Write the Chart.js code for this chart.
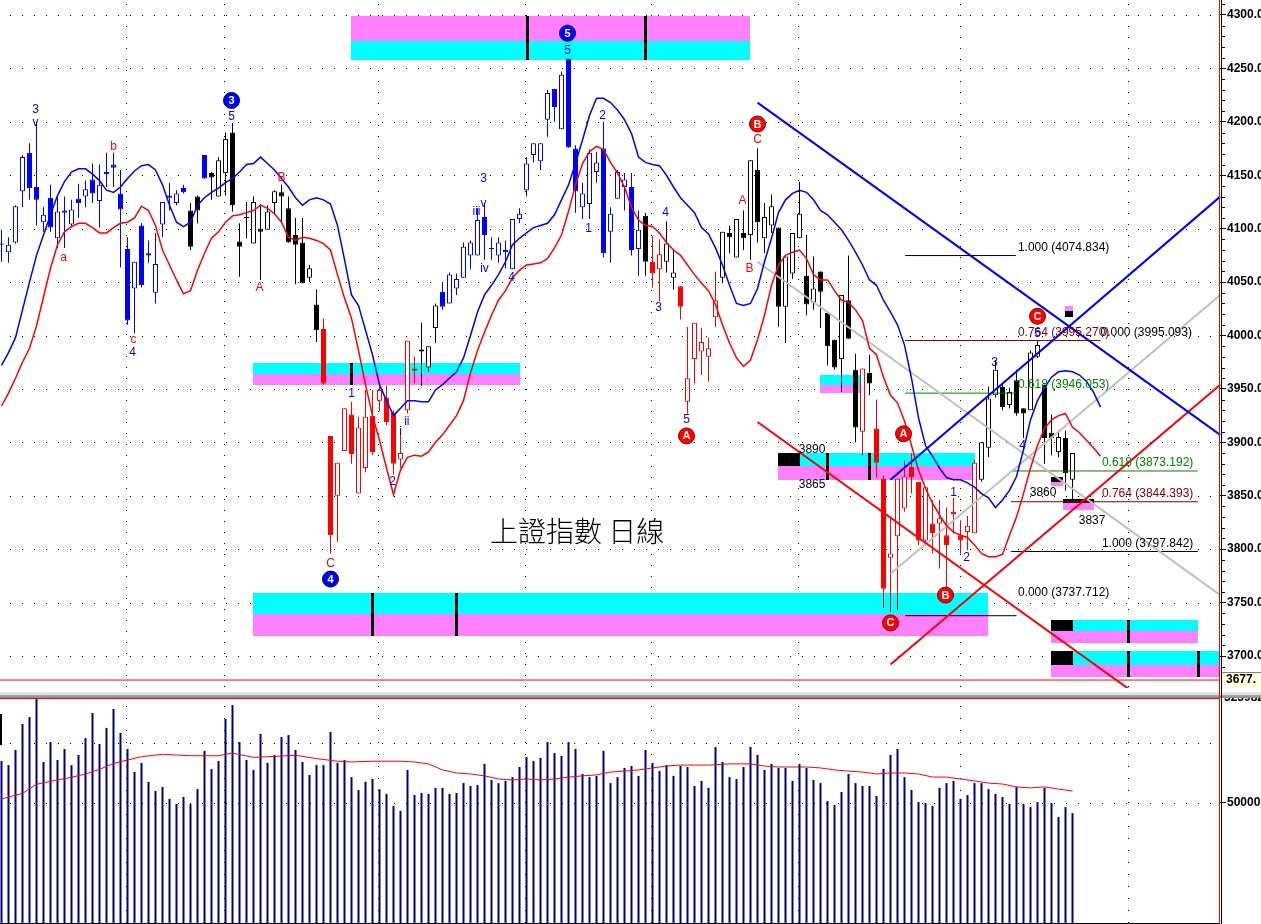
<!DOCTYPE html>
<html><head><meta charset="utf-8">
<script src="https://cdn.jsdelivr.net/npm/chart.js"></script>
<style>
html,body{margin:0;padding:0;background:#fff;overflow:hidden;width:1261px;height:924px}
#pw{position:absolute;left:0;top:0;width:1261px;height:688px}
#vw{position:absolute;left:0;top:698px;width:1261px;height:226px}
#sep{position:absolute;left:0;top:688px;width:1261px;height:10px;background:linear-gradient(to bottom,#fff 0,#fff 4px,#ececec 4px,#dcdcdc 7px,#a8a8a8 7px,#8c8c8c 10px)}
#vr{position:absolute;left:1219px;top:0;width:1px;height:924px;background:#f00}
#vb{position:absolute;left:1221px;top:0;width:1px;height:924px;background:#000}
</style></head>
<body>
<div id="pw"><canvas id="pc" width="1261" height="688"></canvas></div>
<div id="sep"></div>
<div id="vw"><canvas id="vc" width="1261" height="226"></canvas></div>
<div id="vr"></div><div id="vb"></div>
<script>
// ---------------- DATA ----------------
const openP = [4086,4078,4087,4135,4171,4139,4106,4129,4091,4117,
 4104,4128,4130,4146,4126,4153,4160,4133,4081,4044,
 4103,4077,4040,4104,4131,4124,4138,4117,4130,4169,
 4152,4130,4152,4190,4088,4111,4086,4100,4099,4124,
 4134,4119,4094,4087,4054,4029,4006,3906,3850,3892,
 3926,3852,3876,3925,3939,3942,3928,3884,3930,3969,
 3987,3970,4007,4041,4030,4044,4054,4075,4075,4111,
 4082,4075,4080,4062,4109,4136,4169,4163,4202,4231,
 4193,4259,4175,4120,4123,4153,4175,4097,4128,4139,
 4139,4081,4112,4069,4062,4069,4054,4046,3938,3978,
 3985,3980,4017,4054,4096,4073,4096,4094,4155,4091,
 4103,4101,4027,4058,4091,4056,4031,4060,4021,3996,
 3978,4033,3968,3910,3965,3913,3866,3792,3812,3838,
 3877,3863,3808,3824,3824,3813,3835,3813,3816,3815,
 3865,3895,3944,3952,3935,3958,3932,3930,3980,3954,
 3909,3891,3904,3865];
const highP = [4099,4092,4122,4169,4180,4200,4120,4141,4130,4130,
 4127,4142,4145,4161,4160,4171,4171,4155,4092,4069,
 4105,4089,4096,4125,4143,4136,4141,4124,4131,4169,
 4153,4167,4190,4199,4105,4125,4130,4123,4122,4136,
 4141,4130,4110,4110,4066,4043,4016,3906,3881,3932,
 3938,3924,3949,3949,3953,3953,3930,3909,3995,3980,
 4012,3990,4030,4050,4059,4058,4087,4089,4119,4124,
 4092,4092,4089,4109,4119,4167,4180,4180,4230,4231,
 4247,4259,4178,4143,4174,4172,4200,4120,4155,4152,
 4152,4117,4115,4093,4090,4107,4081,4046,4008,4012,
 4007,3998,4060,4097,4103,4109,4117,4164,4175,4124,
 4132,4101,4074,4096,4144,4094,4074,4060,4021,3996,
 4038,4075,3983,3969,3982,3940,3869,3830,3866,3883,
 3890,3863,3858,3846,3846,3839,3848,3827,3831,3883,
 3900,3952,3977,3955,3951,3968,3932,3986,3996,3954,
 3926,3911,3911,3890];
const lowP = [4069,4068,4086,4120,4127,4103,4097,4097,4082,4082,
 4101,4110,4120,4124,4101,4139,4139,4064,4010,4002,
 4045,4068,4030,4092,4117,4122,4133,4080,4105,4147,
 4127,4130,4131,4116,4055,4091,4086,4052,4099,4113,
 4105,4087,4048,4049,4050,3994,3954,3796,3807,3892,
 3880,3852,3872,3888,3929,3916,3870,3876,3927,3955,
 3953,3966,3993,4024,4030,4038,4054,4062,4075,4071,
 4071,4068,4063,4062,4105,4130,4162,4155,4186,4200,
 4193,4176,4115,4109,4109,4143,4073,4068,4128,4117,
 4075,4056,4056,4045,4032,4059,4043,4015,3927,3955,
 3963,3957,4008,4049,4077,4073,4080,4071,4087,4077,
 4096,4008,3993,4053,4091,4019,4024,4007,3972,3968,
 3947,3997,3900,3888,3944,3867,3745,3741,3743,3835,
 3852,3804,3806,3796,3782,3763,3815,3796,3799,3815,
 3863,3886,3942,3930,3932,3925,3904,3930,3979,3880,
 3888,3886,3855,3846];
const closeP = [4085,4085,4121,4167,4138,4127,4113,4101,4116,4115,
 4118,4124,4137,4133,4141,4151,4157,4118,4014,4069,
 4047,4075,4067,4125,4129,4133,4134,4083,4117,4147,
 4148,4164,4184,4122,4083,4110,4125,4097,4116,4135,
 4130,4087,4085,4049,4063,4005,3955,3813,3881,3932,
 3889,3914,3924,3891,3949,3919,3880,3890,3995,3967,
 3985,3990,4028,4027,4057,4053,4083,4087,4108,4094,
 4081,4087,4078,4109,4114,4161,4180,4180,4227,4214,
 4244,4176,4135,4133,4171,4162,4077,4114,4153,4146,
 4080,4099,4069,4058,4076,4086,4059,4027,3960,4012,
 3994,3988,4033,4097,4092,4109,4091,4164,4106,4111,
 4121,4027,4074,4096,4114,4029,4044,4041,3990,3970,
 4038,3997,3914,3969,3955,3881,3763,3796,3866,3868,
 3867,3808,3858,3815,3829,3804,3833,3808,3822,3881,
 3900,3941,3968,3933,3947,3927,3927,3984,3991,3904,
 3904,3905,3871,3890];
// wave colour of each candle, as runs: b = blue, k = black, r = red
const colorRuns = [['b',27],['k',2],['b',1],['k',16],['r',14],['k',3],['b',29],['k',1],['r',2],['k',2],['r',6],['k',20],['r',1],['k',1],['r',15],['k',14]];
const upperBand = [3972,3984,3998,4024,4050,4075,4094,4113,4131,4144,
 4153,4156,4156,4151,4145,4136,4134,4139,4147,4154,
 4159,4160,4155,4141,4122,4106,4102,4106,4122,4129,
 4134,4138,4143,4147,4153,4160,4161,4167,4161,4155,
 4147,4139,4129,4122,4127,4129,4127,4123,4103,4071,
 4038,4028,4005,3982,3954,3939,3925,3932,3939,3939,
 3938,3938,3949,3954,3960,3966,3979,4000,4022,4038,
 4047,4057,4069,4085,4091,4096,4101,4103,4105,4113,
 4127,4141,4161,4183,4206,4222,4222,4218,4211,4202,
 4189,4167,4162,4160,4159,4150,4139,4129,4122,4115,
 4101,4095,4082,4066,4047,4030,4028,4030,4044,4069,
 4091,4115,4127,4133,4136,4134,4127,4117,4113,4106,
 4099,4089,4078,4066,4052,4047,4033,4022,4010,3991,
 3960,3923,3897,3887,3876,3867,3865,3865,3862,3858,
 3852,3848,3839,3846,3855,3868,3893,3921,3939,3951,
 3961,3966,3967,3966,3963,3957,3947,3933];
const lowerBand = [3934,3946,3960,3975,3988,4009,4036,4063,4085,4097,
 4102,4105,4105,4101,4096,4096,4101,4105,4106,4110,
 4121,4117,4103,4080,4066,4052,4039,4042,4061,4077,
 4091,4097,4106,4112,4113,4115,4117,4122,4119,4114,
 4106,4092,4089,4092,4091,4089,4086,4080,4057,4035,
 4016,3986,3954,3925,3902,3876,3851,3874,3886,3888,
 3887,3891,3900,3907,3916,3925,3939,3965,3986,4003,
 4019,4033,4042,4054,4061,4066,4067,4068,4072,4082,
 4094,4116,4141,4161,4172,4177,4174,4162,4152,4139,
 4120,4108,4103,4102,4096,4087,4080,4075,4066,4057,
 4049,4042,4029,4010,3993,3979,3971,3977,3996,4019,
 4047,4066,4075,4078,4080,4072,4057,4052,4052,4042,
 4033,4031,4024,4014,3988,3982,3961,3944,3937,3920,
 3897,3874,3857,3843,3832,3822,3816,3813,3811,3804,
 3796,3793,3793,3795,3813,3830,3852,3876,3897,3913,
 3921,3925,3927,3914,3909,3902,3895,3887];
const volume = [67500,65800,72100,82900,85800,93750,67100,75400,67900,72500,
 65800,70000,77100,87500,74600,81300,89200,79200,72500,62900,
 66700,58800,55000,56700,51700,49600,52500,49600,55800,71700,
 64200,67500,85000,90800,75400,67900,63800,78800,66700,70000,
 77500,78300,72100,67100,61700,65800,65800,79600,66700,67900,
 60800,55400,58800,60000,55800,53800,48800,46700,63800,53300,
 54200,53800,56300,56300,53800,54200,58300,57100,57500,66300,
 59600,58300,59200,60800,65000,69200,67500,68800,75400,70800,
 69600,75400,72500,62100,60800,61300,71700,58300,60800,64600,
 65400,61300,72100,66700,63300,65800,61300,65400,65000,57100,
 59200,56300,73300,67100,60800,60000,65000,73300,70000,63800,
 66300,64600,64600,59200,66300,64600,59600,58300,50800,49200,
 54600,62100,58300,57100,57100,52900,64200,70000,72500,60800,
 55400,50400,50000,48800,56300,58300,59200,51700,53300,58300,
 58300,55800,53800,52500,49600,56700,49600,48300,50400,56300,
 50000,44200,48300,45800];
// volume moving average, read at [bar index, value]
const volMA = [[0,51700],[3,54000],[5,57800],[8,59600],[10,60700],[12,62100],[14,64000],[16,66500],[18,67900],[20,69300],[23,70300],[27,69700],[31,69700],[33,70800],[36,69000],[39,69400],[42,69900],[45,68500],[48,67400],[50,67100],[53,67400],[57,67400],[59,67100],[61,66300],[63,63800],[65,62500],[67,62100],[69,61300],[71,60000],[73,59600],[75,60000],[77,59600],[79,60000],[81,60800],[83,61300],[85,61700],[87,62900],[89,63300],[91,63800],[93,64600],[95,65400],[97,65800],[101,65800],[104,66300],[107,66300],[109,65400],[111,65000],[115,65000],[117,64600],[119,63800],[121,63300],[123,62900],[125,62100],[127,62500],[129,62500],[131,62100],[133,60800],[135,60800],[137,60000],[139,59200],[141,58300],[143,57900],[145,56700],[147,56300],[149,56700],[151,55800],[153,55000]];
const priceTicks = [3700,3750,3800,3850,3900,3950,4000,4050,4100,4150,4200,4250,4300];
const volTicks = [50000];
const volGrid = [50000,75000];
const monthLines = [18,32,54,75,93,114,137,161];
const lastPrice = 3677.5;
// trend lines: [idx1, price1, idx2, price2, colour]
const trendLines = [
 [108,4218,174.1,3907,'#0000FF'],
 [127,3865,174.1,4130,'#0000FF'],
 [108,3919,161.7,3666,'#FF0000'],
 [127,3692,174.1,3954,'#FF0000'],
 [108,4069,174.1,3757,'#C0C0C0'],
 [127,3777,174.1,4038,'#C0C0C0']
];
// fibonacci levels: [price, idx1, idx2, colour]
const fibLines = [
 [4074.834,129.1,144.9,'#000000'],
 [3995.270,129.1,157,'#800000'],
 [3946.053,129.1,145,'#008000'],
 [3873.192,144.2,170.9,'#008000'],
 [3844.393,144.2,170.9,'#800000'],
 [3797.842,144.2,170.9,'#000000'],
 [3737.712,129.1,145,'#000000']
];
const fibTexts = [
 ['1.000 (4074.834)',145.2,4082,'#000000'],
 ['0.000 (3995.093)',157,4003,'#000000'],
 ['0.764 (3995.270)',145.2,4003,'#800000'],
 ['0.618 (3946.053)',145.2,3954,'#008000'],
 ['0.618 (3873.192)',157.2,3881,'#008000'],
 ['0.764 (3844.393)',157.2,3852,'#800000'],
 ['1.000 (3797.842)',157.2,3805,'#000000'],
 ['0.000 (3737.712)',145.2,3759,'#000000']
];
// target zones: [idx1, idx2, top, middle, bottom, upper colour, lower colour]
const zones = [
 [49.93,106.93,4299,4276,4258,'m','c'],
 [35.93,74.07,3974,3964,3954,'c','m'],
 [35.93,140.93,3759,3739,3719,'c','m'],
 [110.93,139.07,3890,3878,3865,'c','m'],
 [116.93,122.93,3963,3954,3946,'c','m'],
 [149.93,170.93,3734,3723,3712,'c','m'],
 [149.93,174.1,3705,3692,3680,'c','m'],
 [151.9,153.1,4028,4023,4017,'m','k'],
 [149.9,151.7,3868,3863,3859,'k','m'],
 [151.7,156,3847,3843,3837,'k','m']
];
const zoneBlocks = [[110.93,114.07,3890,3878],[149.93,153.07,3734,3723],[149.93,153.07,3705,3692]];
const zoneMarkers = [[75.07,4299,4258],[91.93,4299,4258],[49.93,3974,3954],[52.93,3759,3719],[64.93,3759,3719],[117.93,3890,3865],[123.93,3890,3865],[160.93,3734,3712],[160.93,3705,3680],[170.93,3705,3680]];
// wave labels: [text, idx, price, colour b/r, circled]
const waveLabels = [
 ['3',4.86,4211,'b',0],['v',4.86,4199,'b',0],['a',8.86,4073,'r',0],['b',16,4177,'r',0],
 ['c',18.86,3996,'r',0],['4',18.71,3984,'b',0],['3',32.86,4220,'b',1],['5',32.86,4205,'b',0],
 ['A',36.86,4045,'r',0],['B',40,4148,'r',0],['C',47,3786,'r',0],['4',47,3772,'b',1],
 ['1',50,3946,'b',0],['2',55.86,3863,'b',0],['i',57,3910,'b',0],['ii',57.9,3919,'b',0],
 ['3',68.86,4147,'b',0],['iii',67.86,4116,'b',0],['v',68.86,4123,'b',0],['iv',69,4063,'b',0],
 ['4',72.86,4054,'b',0],['5',80.86,4283,'b',1],['5',80.86,4267,'b',0],['1',83.86,4100,'b',0],
 ['2',85.86,4206,'b',0],['3',93.86,4026,'b',0],['4',94.86,4115,'b',0],['5',97.86,3921,'b',0],
 ['A',97.86,3906,'r',1],['A',105.86,4126,'r',0],['B',106.86,4063,'r',0],['B',108,4198,'r',1],
 ['C',108,4183,'r',0],['A',128.86,3908,'r',1],['C',127,3731,'r',1],['B',134.86,3757,'r',1],
 ['1',136,3853,'b',0],['2',137.86,3792,'b',0],['3',141.86,3975,'b',0],['4',145.86,3897,'b',0],
 ['5',148,4002,'b',0],['C',148,4018,'r',1]
];
const priceLabels = [['3890',115.8,3893],['3865',115.8,3860],['3860',148.8,3853],['3837',155.8,3827]];
const titleText = '上證指數 日線';
const titlePos = [69.8,3817];

// ---------------- BUILD ----------------
const FONT = "'Liberation Sans', Arial, sans-serif";
Chart.defaults.font.family = FONT;
const colMap = {b:'#0000FF', k:'#000000', r:'#FF0000'};
const cols = [];
colorRuns.forEach(([c,n]) => { for (let k = 0; k < n; k++) cols.push(colMap[c]); });
const ids = openP.map((_, i) => i);
const wickData = ids.map(i => ({x:i, y:[lowP[i], highP[i]]}));
const bodyData = ids.map(i => ({x:i, y:[Math.min(openP[i], closeP[i]), Math.max(openP[i], closeP[i])]}));
const bodyFill = ids.map(i => closeP[i] > openP[i] ? '#FFFFFF' : cols[i]);
const X_MIN = -1.5/7, X_MAX = 1218.5/7;

const lineDS = (data, color, width, order) => ({type:'line', data, borderColor:color, borderWidth:width, pointRadius:0, pointHoverRadius:0, fill:false, tension:0, order, clip:false});

const zc = {c:'#00FFFF', m:'#FF80FF', k:'#000000'};

const pricePlugin = {
  id:'priceDeco',
  beforeDatasetsDraw(chart) {
    const {ctx, chartArea:ca, scales:{x, y}} = chart;
    ctx.save();
    ctx.fillStyle = '#000';
    priceTicks.forEach(v => { const py = Math.round(y.getPixelForValue(v)); for (let px = 10; px < ca.right - 3; px += 12) ctx.fillRect(px, py, 1, 1); });
    monthLines.forEach(m => { const px = Math.round(x.getPixelForValue(m)) - 1; for (let py = 4; py < ca.bottom; py += 11) ctx.fillRect(px, py, 1, 1); });
    zones.forEach(([i1, i2, t, m, b, tc, bc]) => {
      const X1 = Math.round(x.getPixelForValue(i1)), X2 = Math.round(x.getPixelForValue(i2));
      const T = Math.round(y.getPixelForValue(t)), M = Math.round(y.getPixelForValue(m)), B = Math.round(y.getPixelForValue(b));
      ctx.fillStyle = zc[tc]; ctx.fillRect(X1, T, X2 - X1, M - T);
      ctx.fillStyle = zc[bc]; ctx.fillRect(X1, M, X2 - X1, B - M);
    });
    ctx.fillStyle = '#000';
    zoneBlocks.forEach(([i1, i2, t, b]) => {
      const X1 = Math.round(x.getPixelForValue(i1)), X2 = Math.round(x.getPixelForValue(i2));
      const T = Math.round(y.getPixelForValue(t)), B = Math.round(y.getPixelForValue(b));
      ctx.fillRect(X1, T, X2 - X1, B - T);
    });
    zoneMarkers.forEach(([i, t, b]) => {
      const X = Math.round(x.getPixelForValue(i));
      const T = Math.round(y.getPixelForValue(t)), B = Math.round(y.getPixelForValue(b));
      ctx.fillRect(X - 1, T, 3, B - T);
    });
    ctx.restore();
  },
  afterDatasetsDraw(chart) {
    const {ctx, scales:{x, y}} = chart;
    ctx.save();
    ctx.textBaseline = 'middle';
    ctx.textAlign = 'left';
    ctx.font = '12px ' + FONT;
    fibTexts.forEach(([t, i, p, c]) => { ctx.fillStyle = c; ctx.fillText(t, x.getPixelForValue(i), y.getPixelForValue(p)); });
    ctx.textAlign = 'center';
    ctx.fillStyle = '#000';
    priceLabels.forEach(([t, i, p]) => ctx.fillText(t, x.getPixelForValue(i), y.getPixelForValue(p)));
    waveLabels.forEach(([t, i, p, c, circ]) => {
      const X = x.getPixelForValue(i), Y = y.getPixelForValue(p);
      const col = c === 'b' ? '#0000FF' : '#FF0000';
      if (circ) {
        ctx.beginPath(); ctx.arc(X, Y, 8, 0, Math.PI * 2);
        ctx.fillStyle = col; ctx.fill();
        ctx.lineWidth = 1; ctx.strokeStyle = c === 'b' ? '#000030' : '#800000'; ctx.stroke();
        ctx.fillStyle = '#FFFFFF'; ctx.font = 'bold 11px ' + FONT;
        ctx.fillText(t, X, Y + 0.5);
        ctx.font = '12px ' + FONT;
      } else {
        ctx.fillStyle = col; ctx.fillText(t, X, Y);
      }
    });
    ctx.textAlign = 'left';
    ctx.fillStyle = '#000';
    ctx.font = "300 28px 'Noto Sans CJK TC', 'Noto Sans CJK SC', sans-serif";
    ctx.fillText(titleText, x.getPixelForValue(titlePos[0]), y.getPixelForValue(titlePos[1]));
    ctx.restore();
  },
  afterDraw(chart) {
    const {ctx, scales:{y}} = chart;
    ctx.save();
    ctx.fillStyle = '#000';
    for (let v = 3680; v <= 4310; v += 10) {
      if (v % 50 === 0) continue;
      ctx.fillRect(1222, Math.round(y.getPixelForValue(v)), 3, 1);
    }
    const py = Math.round(y.getPixelForValue(lastPrice));
    ctx.fillStyle = '#FFFFE0'; ctx.fillRect(1222, py - 8, 39, 16);
    ctx.fillStyle = '#808080'; ctx.fillRect(1222, py - 8, 39, 1);
    ctx.fillStyle = '#000'; ctx.font = 'bold 12px ' + FONT; ctx.textBaseline = 'middle'; ctx.textAlign = 'left';
    ctx.fillText(lastPrice.toFixed(1).slice(0, 5), 1226, py);
    ctx.restore();
  }
};

const yAxisBase = (min, max, ticksArr, fmt) => ({
  type:'linear', position:'right', min, max, bounds:'data', grace:0,
  afterBuildTicks: s => { s.ticks = ticksArr.map(v => ({value:v})); },
  afterFit: s => { s.width = 41; s.paddingTop = 0; s.paddingBottom = 0; },
  grid:{drawOnChartArea:false, drawTicks:true, tickLength:6, tickColor:'#000', tickWidth:1},
  border:{display:false},
  ticks:{color:'#000', font:{size:12, weight:'bold'}, padding:1, autoSkip:false, callback:fmt}
});

new Chart(document.getElementById('pc'), {
  type:'bar',
  data:{datasets:[
    {type:'bar', data:wickData, backgroundColor:cols, borderWidth:0, barThickness:1, maxBarThickness:1, grouped:false, inflateAmount:0, order:3},
    {type:'bar', data:bodyData, backgroundColor:bodyFill, borderColor:cols, borderWidth:1, borderSkipped:false, barThickness:5, maxBarThickness:5, grouped:false, inflateAmount:0, order:2},
    lineDS(upperBand.map((v, i) => ({x:i, y:v})), '#0000FF', 1.5, 1),
    lineDS(lowerBand.map((v, i) => ({x:i, y:v})), '#FF0000', 1.5, 1),
    ...trendLines.map(t => lineDS([{x:t[0], y:t[1]}, {x:t[2], y:t[3]}], t[4], 2, 1)),
    ...fibLines.map(f => lineDS([{x:f[1], y:f[0]}, {x:f[2], y:f[0]}], f[3], 1, 1)),
    lineDS([{x:X_MIN, y:lastPrice}, {x:X_MAX, y:lastPrice}], '#FF0000', 1, 1)
  ]},
  options:{
    responsive:false, animation:false, devicePixelRatio:1, events:[],
    layout:{padding:0},
    plugins:{legend:{display:false}, tooltip:{enabled:false}},
    scales:{
      x:{type:'linear', min:X_MIN, max:X_MAX, display:false, offset:false, bounds:'data'},
      y:yAxisBase(3670.05, 4314.04, priceTicks, v => Number(v).toFixed(3))
    }
  },
  plugins:[pricePlugin]
});

const volPlugin = {
  id:'volDeco',
  beforeDatasetsDraw(chart) {
    const {ctx, chartArea:ca, scales:{x, y}} = chart;
    ctx.save();
    ctx.fillStyle = '#000';
    volGrid.forEach(v => { const py = Math.round(y.getPixelForValue(v)); for (let px = 10; px < ca.right - 3; px += 12) ctx.fillRect(px, py, 1, 1); });
    monthLines.forEach(m => { const px = Math.round(x.getPixelForValue(m)) - 1; for (let py = 8; py < ca.bottom; py += 12) ctx.fillRect(px, py, 1, 1); });
    ctx.fillRect(0, 16, 2, 31);
    ctx.restore();
  },
  afterDraw(chart) {
    const {ctx, chartArea:ca, scales:{y}} = chart;
    ctx.save();
    ctx.fillStyle = '#FF0000'; ctx.fillRect(0, 0, ca.right, 1);
    ctx.fillStyle = '#000'; ctx.fillRect(0, Math.round(y.getPixelForValue(0)), ca.right, 1);
    ctx.font = 'bold 12px ' + FONT; ctx.textBaseline = 'middle'; ctx.textAlign = 'left';
    ctx.fillText('323982', 1224, 0);
    ctx.restore();
  }
};

new Chart(document.getElementById('vc'), {
  type:'bar',
  data:{datasets:[
    lineDS(volMA.map(([i, v]) => ({x:i, y:v})), '#FF0000', 1, 0),
    {type:'bar', data:volume.map((v, i) => ({x:i, y:v})), backgroundColor:'#000080', borderWidth:0, barThickness:2, maxBarThickness:2, inflateAmount:0, order:1}
  ]},
  options:{
    responsive:false, animation:false, devicePixelRatio:1, events:[],
    layout:{padding:0},
    plugins:{legend:{display:false}, tooltip:{enabled:false}},
    scales:{
      x:{type:'linear', min:X_MIN, max:X_MAX, display:false, offset:false, bounds:'data'},
      y:yAxisBase(-416.7, 93750, volTicks, v => String(v))
    }
  },
  plugins:[volPlugin]
});
</script></body></html>
